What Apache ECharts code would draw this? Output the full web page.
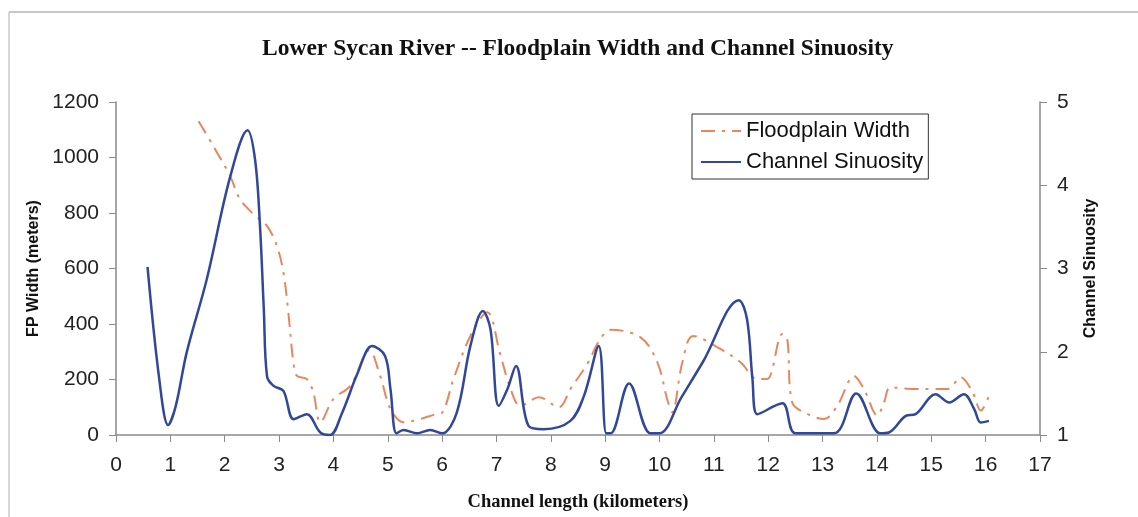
<!DOCTYPE html>
<html>
<head>
<meta charset="utf-8">
<script src="https://cdn.jsdelivr.net/npm/echarts@6/dist/echarts.min.js"></script>
<style>
  html, body { margin: 0; padding: 0; background: #fff; }
  #chart { width: 1138px; height: 517px; }
</style>
</head>
<body>
<div id="chart"></div>
<script>
// Floodplain width (m) along the channel (km)
const fpKm = [1.52, 1.79, 2.10, 2.28, 2.53, 2.78, 2.96, 3.08, 3.17, 3.27, 3.33, 3.51, 3.63, 3.76,
  4.00, 4.31, 4.66, 4.86, 5.05, 5.29, 5.50, 5.90, 6.00, 6.21, 6.52, 6.83, 7.07, 7.26, 7.44,
  7.78, 8.15, 8.36, 8.67, 8.91, 9.10, 9.65, 9.96, 10.14, 10.23, 10.42, 10.62, 11.12, 11.49,
  11.80, 11.98, 12.26, 12.35, 12.44, 12.72, 13.03, 13.27, 13.58, 13.76, 14.01, 14.13, 14.25,
  14.62, 15.30, 15.54, 15.76, 15.91, 16.06];
const fpWidth = [1131, 1041, 933, 850, 796, 753, 681, 586, 442, 250, 213, 202, 154, 46,
  130, 177, 305, 213, 94, 46, 52, 76, 80, 202, 357, 442, 290, 166, 105,
  136, 100, 166, 256, 346, 379, 352, 262, 130, 82, 262, 357, 310, 262,
  202, 202, 364, 346, 118, 76, 58, 105, 213, 166, 70, 118, 172,
  166, 166, 208, 154, 88, 141];

// Channel sinuosity along the channel (km)
const sinKm = [0.58, 0.80, 0.96, 1.10, 1.30, 1.67, 2.10, 2.42, 2.56, 2.65, 2.72, 2.78, 2.90,
  3.08, 3.27, 3.51, 3.76, 3.94, 4.15, 4.45, 4.71, 4.95, 5.05, 5.16, 5.29, 5.54, 5.78, 6.00,
  6.27, 6.52, 6.75, 6.89, 7.04, 7.20, 7.36, 7.59, 7.87, 8.36, 8.61, 8.88, 9.02, 9.10, 9.44,
  9.83, 10.00, 10.40, 10.80, 11.46, 11.61, 11.71, 11.80, 12.26, 12.50, 13.21, 13.62, 14.06,
  14.22, 14.53, 14.71, 15.08, 15.33, 15.60, 15.79, 15.91, 16.06];
const sinuosity = [3.02, 1.65, 1.12, 1.35, 1.99, 2.87, 4.10, 4.66, 4.30, 3.50, 2.50, 1.70, 1.59,
  1.53, 1.19, 1.25, 1.03, 1.00, 1.25, 1.75, 2.07, 1.95, 1.55, 1.02, 1.06, 1.02, 1.06, 1.02,
  1.27, 2.07, 2.49, 2.27, 1.35, 1.55, 1.83, 1.11, 1.07, 1.17, 1.47, 2.07, 1.02, 1.02, 1.62,
  1.02, 1.02, 1.45, 1.88, 2.62, 2.39, 1.67, 1.25, 1.38, 1.02, 1.02, 1.50, 1.02,
  1.03, 1.23, 1.25, 1.49, 1.39, 1.49, 1.31, 1.15, 1.17];

const zip = (xs, ys) => xs.map((x, i) => [x, ys[i]]);

const axisGray = '#8a8a8a';
const labelFont = { color: '#222', fontSize: 21, fontFamily: 'Liberation Sans, Arial, sans-serif' };
const plain = v => String(v);

const chart = echarts.init(document.getElementById('chart'), null, { renderer: 'canvas' });
chart.setOption({
  backgroundColor: '#ffffff',
  animation: false,
  title: {
    text: 'Lower Sycan River -- Floodplain Width and Channel Sinuosity',
    left: 257,
    top: 32,
    textStyle: { fontFamily: 'Liberation Serif, Times New Roman, serif', fontWeight: 'bold', fontSize: 23.5, color: '#111' }
  },
  legend: {
    orient: 'vertical',
    left: 692,
    top: 114,
    padding: [6, 5, 6, 8],
    itemWidth: 40,
    itemHeight: 14,
    itemGap: 9,
    borderColor: '#333',
    borderWidth: 1,
    itemStyle: { opacity: 0 },
    textStyle: { fontSize: 22, color: '#111', fontFamily: 'Liberation Sans, Arial, sans-serif' },
    data: ['Floodplain Width', 'Channel Sinuosity']
  },
  graphic: [
    { type: 'line', shape: { x1: 9, y1: 12, x2: 1138, y2: 12 }, style: { stroke: '#b5b5b5', lineWidth: 1.5 } },
    { type: 'line', shape: { x1: 9, y1: 12, x2: 9, y2: 517 }, style: { stroke: '#c8c8c8', lineWidth: 1.5 } }
  ],
  grid: { left: 116, right: 98, top: 102, bottom: 81 },
  xAxis: {
    type: 'value',
    min: 0, max: 17, interval: 1,
    name: 'Channel length (kilometers)',
    nameLocation: 'middle',
    nameGap: 58,
    nameTextStyle: { fontFamily: 'Liberation Serif, Times New Roman, serif', fontWeight: 'bold', fontSize: 18.5, color: '#111' },
    axisLine: { show: true, lineStyle: { color: axisGray, width: 1.5 } },
    axisTick: { show: true, length: 7, lineStyle: { color: axisGray } },
    axisLabel: Object.assign({ margin: 20, formatter: plain }, labelFont),
    splitLine: { show: false }
  },
  yAxis: [
    {
      type: 'value',
      min: 0, max: 1200, interval: 200,
      name: 'FP Width (meters)',
      nameLocation: 'middle',
      nameGap: 74,
      nameTextStyle: { fontFamily: 'Liberation Sans, Arial, sans-serif', fontWeight: 'bold', fontSize: 16, color: '#111' },
      axisLine: { show: true, lineStyle: { color: axisGray, width: 1.5 } },
      axisTick: { show: true, length: 7, lineStyle: { color: axisGray } },
      axisLabel: Object.assign({ margin: 17, formatter: plain }, labelFont),
      splitLine: { show: false }
    },
    {
      type: 'value',
      min: 1, max: 5, interval: 1,
      position: 'right',
      name: 'Channel Sinuosity',
      nameLocation: 'middle',
      nameGap: 43,
      nameRotate: 90,
      nameTextStyle: { fontFamily: 'Liberation Sans, Arial, sans-serif', fontWeight: 'bold', fontSize: 16, color: '#111' },
      axisLine: { show: true, lineStyle: { color: axisGray, width: 1.5 } },
      axisTick: { show: true, length: 7, lineStyle: { color: axisGray } },
      axisLabel: Object.assign({ margin: 17, formatter: plain }, labelFont),
      splitLine: { show: false }
    }
  ],
  series: [
    {
      name: 'Floodplain Width',
      type: 'line',
      yAxisIndex: 0,
      data: zip(fpKm, fpWidth),
      smooth: 0.35,
      symbol: 'none',
      color: '#e8875e',
      lineStyle: { color: '#e8875e', width: 2, type: [14, 7, 3, 7] }
    },
    {
      name: 'Channel Sinuosity',
      type: 'line',
      yAxisIndex: 1,
      data: zip(sinKm, sinuosity),
      smooth: 0.35,
      symbol: 'none',
      color: '#31479a',
      lineStyle: { color: '#31479a', width: 2.5 }
    }
  ]
});
</script>
</body>
</html>
